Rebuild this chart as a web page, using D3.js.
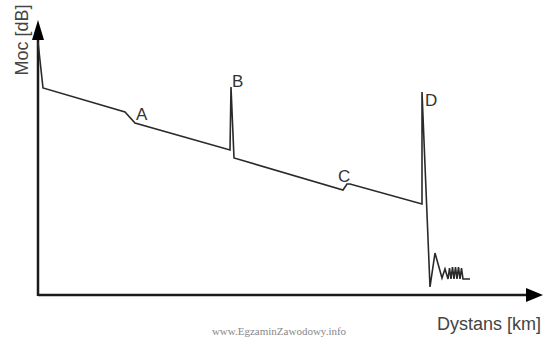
<!DOCTYPE html>
<html>
<head>
<meta charset="utf-8">
<script src="https://cdn.jsdelivr.net/npm/d3@7"></script>
<style>
  html, body { margin: 0; padding: 0; background: #fff; }
  svg { display: block; }
</style>
</head>
<body>
<svg id="chart" width="543" height="338"></svg>
<script>
// OTDR trace: distance (arbitrary km units) and power (arbitrary dB units)
const distance = [0, 1, 17.4, 19.4, 38.4, 38.6, 39.2, 61, 61.8, 62.4, 76.8, 76.8, 78.4, 79.4, 80.8,
                  81.4, 82.0, 82.3, 82.6, 82.9, 83.2, 83.5, 83.8, 84.1, 84.4, 84.7, 85.0, 85.2, 86.4];
const power    = [50.6, 41.4, 36.6, 34.4, 29.0, 41.6, 27.4, 21.0, 22.2, 22.2, 18.2, 40.6, 1.6, 8.4, 3.4,
                  5.2, 3.2, 5.4, 3.2, 5.6, 3.2, 5.6, 3.2, 5.6, 3.2, 5.4, 3.2, 3.2, 3.2];
const eventLabels = ["A", "B", "C", "D"];
const eventDist   = [19.6, 38.8, 60.0, 77.4];
const eventPower  = [35.0, 41.6, 22.6, 37.8];
const xTitle = "Dystans [km]";
const yTitle = "Moc [dB]";
const watermark = "www.EgzaminZawodowy.info";

const svg = d3.select("#chart");
const x = d3.scaleLinear().domain([0, 100]).range([38, 538]);
const y = d3.scaleLinear().domain([0, 55]).range([295, 20]);

// axes with arrowheads
const axisColor = "#1a1a1a";
svg.append("line").attr("x1", x(0)).attr("x2", 530).attr("y1", y(0)).attr("y2", y(0))
  .attr("stroke", axisColor).attr("stroke-width", 2.5);
svg.append("line").attr("x1", x(0)).attr("x2", x(0)).attr("y1", y(0) + 1).attr("y2", 30)
  .attr("stroke", axisColor).attr("stroke-width", 2.5);
svg.append("path").attr("d", `M${x(0)},20 L${x(0) - 6},40 L${x(0) + 6},40 Z`).attr("fill", "#000");
svg.append("path").attr("d", `M543,${y(0)} L526,${y(0) - 7} L526,${y(0) + 7} Z`).attr("fill", "#000");

// trace
const line = d3.line().x((d, i) => x(distance[i])).y((d, i) => y(power[i]));
svg.append("path").datum(power).attr("d", line)
  .attr("fill", "none").attr("stroke", "#2a2a2a").attr("stroke-width", 1.6)
  .attr("stroke-linejoin", "miter");

// event labels
svg.selectAll("text.ev").data(eventLabels).enter().append("text")
  .attr("class", "ev")
  .attr("x", (d, i) => x(eventDist[i]))
  .attr("y", (d, i) => y(eventPower[i]))
  .attr("font-family", "Liberation Sans, Arial, sans-serif")
  .attr("font-size", 17)
  .attr("fill", "#333")
  .text(d => d);

// axis titles
svg.append("text").attr("x", 541).attr("y", 330).attr("text-anchor", "end")
  .attr("font-family", "Liberation Sans, Arial, sans-serif").attr("font-size", 18)
  .attr("fill", "#444").text(xTitle);
svg.append("text").attr("transform", "translate(28,40) rotate(-90)").attr("text-anchor", "middle")
  .attr("font-family", "Liberation Sans, Arial, sans-serif").attr("font-size", 18)
  .attr("fill", "#444").text(yTitle);

// watermark at bottom
svg.append("text").attr("x", 279).attr("y", 335).attr("text-anchor", "middle")
  .attr("font-family", "Liberation Serif, serif").attr("font-size", 11)
  .attr("fill", "#888").text(watermark);
</script>
</body>
</html>
